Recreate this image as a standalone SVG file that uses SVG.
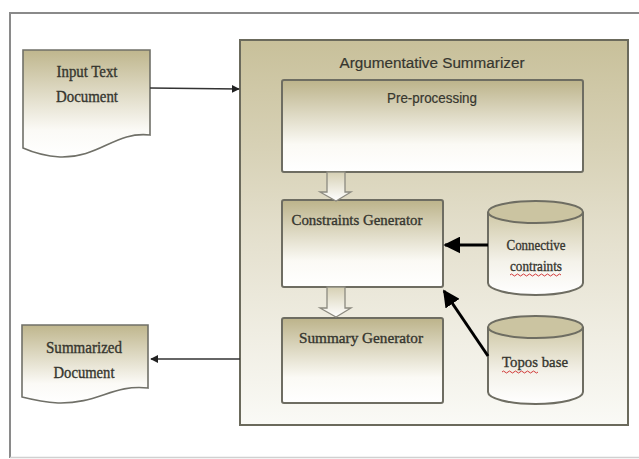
<svg xmlns="http://www.w3.org/2000/svg" width="639" height="459" viewBox="0 0 639 459">
<defs>
<linearGradient id="gCont" x1="0" y1="0" x2="0" y2="1">
<stop offset="0" stop-color="#c8c09a"/>
<stop offset="0.55" stop-color="#e6e2d1"/>
<stop offset="1" stop-color="#fafaf6"/>
</linearGradient>
<linearGradient id="gBox" x1="0" y1="0" x2="0" y2="1">
<stop offset="0" stop-color="#bcb38a"/>
<stop offset="0.7" stop-color="#fbfaf5"/>
<stop offset="1" stop-color="#ffffff"/>
</linearGradient>
<linearGradient id="gDoc" x1="0" y1="0" x2="0" y2="1">
<stop offset="0" stop-color="#bfb68d"/>
<stop offset="0.75" stop-color="#fbfaf6"/>
<stop offset="1" stop-color="#ffffff"/>
</linearGradient>
<linearGradient id="gArrow" x1="0" y1="0" x2="0" y2="1">
<stop offset="0" stop-color="#d6d0b4"/>
<stop offset="1" stop-color="#ffffff"/>
</linearGradient>
<linearGradient id="gCyl" x1="0" y1="0" x2="0" y2="1">
<stop offset="0" stop-color="#cfc8a6"/>
<stop offset="0.6" stop-color="#f4f2ea"/>
<stop offset="1" stop-color="#ffffff"/>
</linearGradient>
<marker id="mThin" viewBox="0 0 10 10" refX="9" refY="5" markerWidth="8" markerHeight="8" markerUnits="userSpaceOnUse" orient="auto">
<path d="M0,0 L10,5 L0,10 Z" fill="#222"/>
</marker>
<marker id="mThick" viewBox="0 0 10 10" refX="9" refY="5" markerWidth="17" markerHeight="17" markerUnits="userSpaceOnUse" orient="auto">
<path d="M0,0 L10,5 L0,10 Z" fill="#000"/>
</marker>
</defs>
<style>
.box{fill:url(#gBox);stroke:#6e6d62;stroke-width:2}
.doc{fill:url(#gDoc);stroke:#707068;stroke-width:1.6}
.cyl{fill:url(#gCyl);stroke:#6e6d62;stroke-width:2}
.cyltop{fill:#cbc4a1;stroke:#6e6d62;stroke-width:2}
.harrow{fill:url(#gArrow);stroke:#8c8a80;stroke-width:1.3}
.serif{font-family:"Liberation Serif","DejaVu Serif",serif;fill:#36362f;stroke:#36362f;stroke-width:0.35}
.sans{font-family:"Liberation Sans","DejaVu Sans",sans-serif;fill:#36362f;stroke:#36362f;stroke-width:0.2}
.thin{stroke:#333;stroke-width:1.6;fill:none}
.thick{stroke:#000;stroke-width:3;fill:none}
.squig{stroke:#d23a3a;stroke-width:1;fill:none}
</style>
<rect width="639" height="459" fill="#ffffff"/>
<path d="M639,13 H10 V458" fill="none" stroke="#8a8a8a" stroke-width="2"/>
<path d="M10,457.5 H639" fill="none" stroke="#d0d0d0" stroke-width="1.5"/>

<g id="summarizer">
<rect x="240" y="40" width="388" height="385" fill="url(#gCont)" stroke="#6b6a5c" stroke-width="2"/>
<text class="sans" x="432" y="68" font-size="15.5" text-anchor="middle" textLength="185" lengthAdjust="spacingAndGlyphs">Argumentative Summarizer</text>
</g>

<g id="preprocessing">
<rect class="box" x="282" y="80" width="301" height="92" rx="2"/>
<text class="sans" x="432" y="103" font-size="14" text-anchor="middle" textLength="90" lengthAdjust="spacingAndGlyphs">Pre-processing</text>
</g>

<g id="constraints-generator">
<rect class="box" x="282" y="200" width="161" height="87" rx="2"/>
<text class="serif" x="357" y="225" font-size="15" text-anchor="middle" textLength="131" lengthAdjust="spacingAndGlyphs">Constraints Generator</text>
</g>

<g id="summary-generator">
<rect class="box" x="282" y="318" width="161" height="85" rx="2"/>
<text class="serif" x="361" y="343" font-size="15" text-anchor="middle" textLength="124" lengthAdjust="spacingAndGlyphs">Summary Generator</text>
</g>

<g id="connective-constraints">
<path class="cyl" d="M488,212 V283 A47.5,12 0 0 0 583,283 V212"/>
<ellipse class="cyltop" cx="535.5" cy="212" rx="47.5" ry="11"/>
<text class="serif" x="536" y="250" font-size="15" text-anchor="middle" textLength="59" lengthAdjust="spacingAndGlyphs">Connective</text>
<text class="serif" x="536" y="271" font-size="15" text-anchor="middle" textLength="52" lengthAdjust="spacingAndGlyphs">contraints</text>
<path class="squig" d="M510,275 q1.5,-2 3,0 t3,0 t3,0 t3,0 t3,0 t3,0 t3,0 t3,0 t3,0 t3,0 t3,0 t3,0 t3,0 t3,0 t3,0 t3,0 t3,0"/>
</g>

<g id="topos-base">
<path class="cyl" d="M488,327 V392 A47.5,12 0 0 0 583,392 V327"/>
<ellipse class="cyltop" cx="535.5" cy="327" rx="47.5" ry="11"/>
<text class="serif" x="535" y="367" font-size="15.5" text-anchor="middle" textLength="66" lengthAdjust="spacingAndGlyphs">Topos base</text>
<path class="squig" d="M502,372 q1.5,-2 3,0 t3,0 t3,0 t3,0 t3,0 t3,0 t3,0 t3,0 t3,0 t3,0 t3,0 t3,0"/>
</g>

<g id="input-document">
<path class="doc" d="M23,50 H150 V135 C115,131 100,158 60,157 C45,156 32,152 23,148 Z"/>
<text class="serif" x="87" y="77" font-size="16" text-anchor="middle" textLength="61" lengthAdjust="spacingAndGlyphs">Input Text</text>
<text class="serif" x="87" y="102" font-size="16" text-anchor="middle" textLength="62" lengthAdjust="spacingAndGlyphs">Document</text>
</g>

<g id="summarized-document">
<path class="doc" d="M22,325 H148 V388 C113,384 98,404 58,403 C43,402 30,399 22,397 Z"/>
<text class="serif" x="84" y="353" font-size="16" text-anchor="middle" textLength="76" lengthAdjust="spacingAndGlyphs">Summarized</text>
<text class="serif" x="84" y="378" font-size="16" text-anchor="middle" textLength="61" lengthAdjust="spacingAndGlyphs">Document</text>
</g>

<g id="connectors">
<path class="harrow" d="M327,172 H345 V192 H351 L336,201 L320,192 H327 Z"/>
<path class="harrow" d="M327,287 H345 V308 H351 L336,317 L320,308 H327 Z"/>
<line class="thin" x1="150" y1="88" x2="239" y2="89" marker-end="url(#mThin)"/>
<line class="thin" x1="240" y1="359" x2="151" y2="359" marker-end="url(#mThin)"/>
<line class="thick" x1="488" y1="245" x2="445" y2="245" marker-end="url(#mThick)"/>
<line class="thick" x1="488" y1="356" x2="444" y2="291" marker-end="url(#mThick)"/>
</g>
</svg>
